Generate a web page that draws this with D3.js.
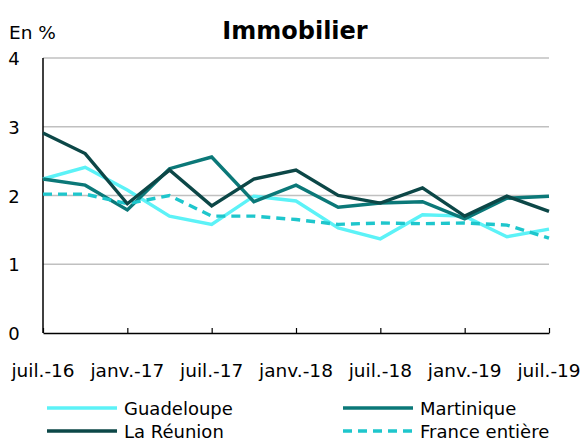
<!DOCTYPE html>
<html>
<head>
<meta charset="utf-8">
<script src="https://cdn.jsdelivr.net/npm/d3@7"></script>
<style>
  body { margin: 0; background: #fff; }
  svg { font-family: "DejaVu Sans", sans-serif; }
</style>
</head>
<body>
<div id="chart"></div>
<script>
// quarterly points, juil.-16 -> juil.-19
const quarters = d3.range(13);
const tickLabels = ["juil.-16", "janv.-17", "juil.-17", "janv.-18", "juil.-18", "janv.-19", "juil.-19"];
const yTicks = [0, 1, 2, 3, 4];

const guadeloupe = [2.24, 2.41, 2.08, 1.70, 1.58, 1.99, 1.92, 1.53, 1.37, 1.72, 1.70, 1.40, 1.51];
const martinique = [2.24, 2.15, 1.79, 2.39, 2.56, 1.91, 2.15, 1.83, 1.89, 1.91, 1.66, 1.96, 1.99];
const reunion    = [2.91, 2.61, 1.88, 2.37, 1.85, 2.24, 2.37, 2.00, 1.89, 2.11, 1.70, 1.99, 1.77];
const france     = [2.02, 2.02, 1.88, 2.00, 1.70, 1.70, 1.65, 1.58, 1.60, 1.59, 1.60, 1.57, 1.38];

const width = 583, height = 443;

const x = d3.scaleLinear().domain([0, 12]).range([43, 549]);
const y = d3.scaleLinear().domain([0, 4]).range([333, 58]);

const svg = d3.select("#chart").append("svg")
    .attr("width", width)
    .attr("height", height);

// title
svg.append("text")
    .attr("x", 295).attr("y", 39)
    .attr("text-anchor", "middle")
    .style("font-size", "24px")
    .style("font-weight", "bold")
    .text("Immobilier");

svg.append("text")
    .attr("x", 9).attr("y", 39)
    .style("font-size", "18.5px")
    .text("En %");

// gridlines
svg.append("g")
    .selectAll("line")
    .data(yTicks.filter(d => d > 0))
    .join("line")
    .attr("x1", x(0)).attr("x2", x(12))
    .attr("y1", d => y(d)).attr("y2", d => y(d))
    .attr("stroke", "#c0c0c0")
    .attr("stroke-width", 1.5);

// y labels
svg.append("g")
    .selectAll("text")
    .data(yTicks)
    .join("text")
    .attr("x", 14).attr("y", d => y(d) + 7)
    .attr("text-anchor", "middle")
    .style("font-size", "18px")
    .text(d => d);

// axes
svg.append("line")
    .attr("x1", x(0)).attr("x2", x(0))
    .attr("y1", y(4)).attr("y2", y(0))
    .attr("stroke", "#000").attr("stroke-width", 1.5);

const xAxis = d3.axisBottom(x)
    .tickValues(d3.range(0, 13, 2))
    .tickSizeInner(-5)
    .tickSizeOuter(0)
    .tickFormat("");

svg.append("g")
    .attr("transform", `translate(0,${y(0)})`)
    .call(xAxis)
    .call(g => g.select(".domain").attr("stroke-width", 1.5))
    .call(g => g.selectAll(".tick line").attr("stroke-width", 1.2));

svg.append("g")
    .selectAll("text")
    .data(tickLabels)
    .join("text")
    .attr("x", (d, i) => x(i * 2))
    .attr("y", 377)
    .attr("text-anchor", "middle")
    .style("font-size", "18.5px")
    .text(d => d);

// series
const series = [
    { name: "Guadeloupe", values: guadeloupe, color: "#5cf2f7", dash: null },
    { name: "Martinique", values: martinique, color: "#0b7878", dash: null },
    { name: "France entière", values: france, color: "#1ec6cc", dash: "9,6" },
    { name: "La Réunion", values: reunion, color: "#0c4747", dash: null }
];

const line = d3.line()
    .x((d, i) => x(quarters[i]))
    .y(d => y(d));

svg.append("g")
    .selectAll("path")
    .data(series)
    .join("path")
    .attr("d", d => line(d.values))
    .attr("fill", "none")
    .attr("stroke", d => d.color)
    .attr("stroke-width", 3.4)
    .attr("stroke-dasharray", d => d.dash)
    .attr("stroke-linejoin", "miter");

// legend
const legendItems = [
    { s: series[0], lx: 47, ly: 408 },
    { s: series[1], lx: 343, ly: 408 },
    { s: series[3], lx: 47, ly: 431 },
    { s: series[2], lx: 343, ly: 431 }
];

const lg = svg.append("g")
    .selectAll("g")
    .data(legendItems)
    .join("g")
    .attr("transform", d => `translate(${d.lx},${d.ly})`);

lg.append("line")
    .attr("x1", 0).attr("x2", 70)
    .attr("stroke", d => d.s.color)
    .attr("stroke-width", 3.4)
    .attr("stroke-dasharray", d => d.s.dash);

lg.append("text")
    .attr("x", 77).attr("y", 7)
    .style("font-size", "18px")
    .text(d => d.s.name);
</script>
</body>
</html>
